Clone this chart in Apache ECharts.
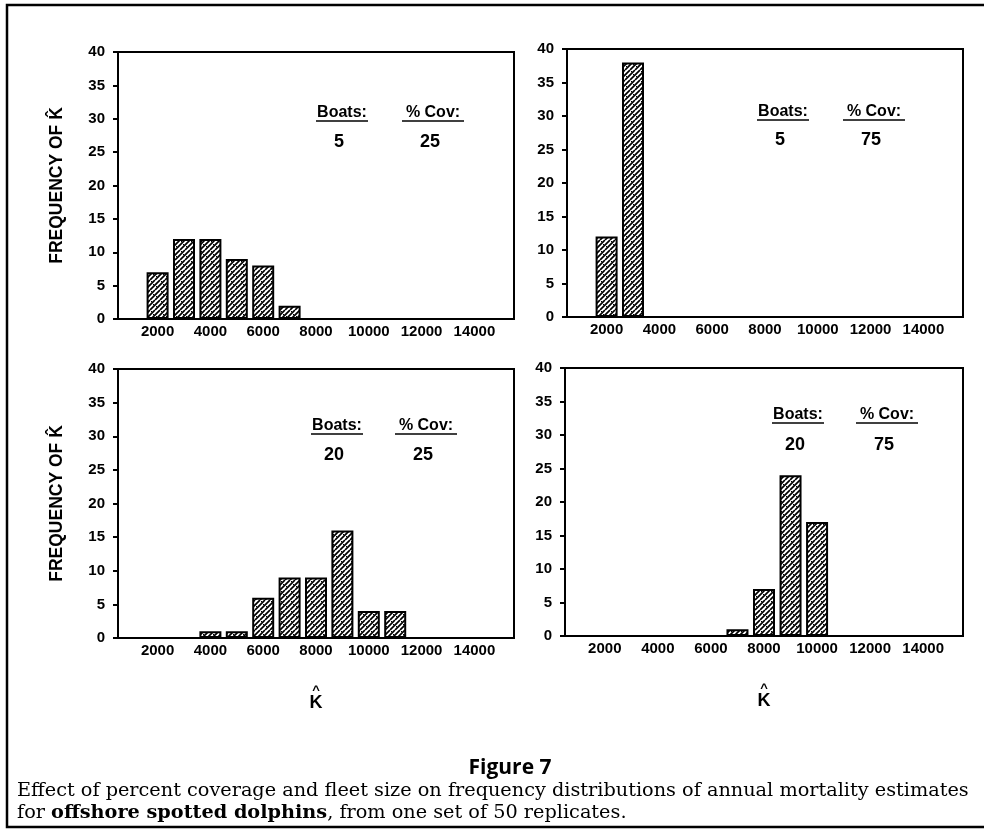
<!DOCTYPE html>
<html>
<head>
<meta charset="utf-8">
<script src="https://cdn.jsdelivr.net/npm/echarts@6/dist/echarts.min.js"></script>
<style>
  html, body { margin: 0; padding: 0; background: #fff; }
  #chart { width: 984px; height: 832px; }
</style>
</head>
<body>
<div id="chart"></div>
<script>
// bins of K-hat, one per 1000
const bins = ['1000', '2000', '3000', '4000', '5000', '6000', '7000', '8000',
  '9000', '10000', '11000', '12000', '13000', '14000', '15000'];
const shownTicks = ['2000', '4000', '6000', '8000', '10000', '12000', '14000'];

// frequencies per bin
const boats5cov25 = [0, 7, 12, 12, 9, 8, 2, 0, 0, 0, 0, 0, 0, 0, 0];
const boats5cov75 = [0, 12, 38, 0, 0, 0, 0, 0, 0, 0, 0, 0, 0, 0, 0];
const boats20cov25 = [0, 0, 0, 1, 1, 6, 9, 9, 16, 4, 4, 0, 0, 0, 0];
const boats20cov75 = [0, 0, 0, 0, 0, 0, 1, 7, 24, 17, 0, 0, 0, 0, 0];

const panels = [
  { boats: '5', cov: '25', data: boats5cov25, grid: { left: 118, top: 52, width: 396, height: 267 } },
  { boats: '5', cov: '75', data: boats5cov75, grid: { left: 567, top: 49, width: 396, height: 268 } },
  { boats: '20', cov: '25', data: boats20cov25, grid: { left: 118, top: 369, width: 396, height: 269 } },
  { boats: '20', cov: '75', data: boats20cov75, grid: { left: 565, top: 368, width: 398, height: 268 } },
];

const SANS = '"Liberation Sans", Arial, sans-serif';
const SERIF = '"DejaVu Serif", serif';

// diagonal hatch with a few dots, like the printed fill
function makeHatch() {
  const c = document.createElement('canvas');
  c.width = 10; c.height = 10;
  const g = c.getContext('2d');
  g.fillStyle = '#fff';
  g.fillRect(0, 0, 10, 10);
  g.strokeStyle = '#000';
  g.lineWidth = 1.7;
  g.beginPath();
  [0, 5, 10, 15, 20].forEach(s => { g.moveTo(s - 10, 10); g.lineTo(s, 0); g.moveTo(s, 10); g.lineTo(s + 10, 0); });
  g.stroke();
  g.fillStyle = '#000';
  g.fillRect(1, 1, 1, 1);
  g.fillRect(6, 6, 1, 1);
  g.fillRect(3, 4, 1, 1);
  return c;
}
const hatch = makeHatch();

const chart = echarts.init(document.getElementById('chart'), null, { renderer: 'canvas' });

const grids = [], xAxes = [], yAxes = [], series = [], graphics = [];

panels.forEach((p, i) => {
  const isLeft = i % 2 === 0;
  const isBottom = i >= 2;
  grids.push(Object.assign({ show: true, borderColor: '#000', borderWidth: 2, backgroundColor: 'transparent' }, p.grid));
  xAxes.push({
    type: 'category',
    gridIndex: i,
    data: bins,
    boundaryGap: true,
    axisLine: { lineStyle: { color: '#000', width: 2 } },
    axisTick: { alignWithLabel: true, interval: 0, length: 4, lineStyle: { color: '#000', width: 2 } },
    axisLabel: {
      interval: 0,
      formatter: v => shownTicks.includes(v) ? v : '',
      color: '#000', fontWeight: 'bold', fontSize: 15, fontFamily: SANS, margin: 5
    },
    name: isBottom ? '{h|^}\n{k|K}' : '',
    nameLocation: 'middle',
    nameGap: 48,
    nameTextStyle: {
      rich: {
        h: { fontSize: 13, fontWeight: 'bold', fontFamily: SANS, color: '#000', lineHeight: 9, align: 'center' },
        k: { fontSize: 18, fontWeight: 'bold', fontFamily: SANS, color: '#000', lineHeight: 17, align: 'center' }
      }
    }
  });
  yAxes.push({
    type: 'value',
    gridIndex: i,
    min: 0, max: 40, interval: 5,
    splitLine: { show: false },
    axisLine: { show: true, lineStyle: { color: '#000', width: 2 } },
    axisTick: { show: true, length: 5, lineStyle: { color: '#000', width: 2 } },
    axisLabel: { color: '#000', fontWeight: 'bold', fontSize: 15, fontFamily: SANS, margin: 13 },
    name: isLeft ? 'FREQUENCY OF K\u0302' : '',
    nameLocation: 'middle',
    nameRotate: 90,
    nameGap: 52,
    nameTextStyle: { color: '#000', fontWeight: 'bold', fontSize: 17.5, fontFamily: SANS }
  });
  series.push({
    type: 'bar',
    xAxisIndex: i,
    yAxisIndex: i,
    data: p.data,
    barWidth: 22,
    itemStyle: { color: { image: hatch, repeat: 'repeat' }, borderColor: '#000', borderWidth: 2 },
    silent: true,
    animation: false
  });
});

// panel annotations: Boats / % Cov
const notes = [
  { bx: 342, cx: 433, y: 113, ny: 142 },
  { bx: 783, cx: 874, y: 112, ny: 140 },
  { bx: 337, cx: 426, y: 426, ny: 455 },
  { bx: 798, cx: 887, y: 415, ny: 445 },
];
const labelStyle = { fill: '#000', font: 'bold 16px ' + SANS, textAlign: 'center', textVerticalAlign: 'middle' };
const numStyle = { fill: '#000', font: 'bold 18px ' + SANS, textAlign: 'center', textVerticalAlign: 'middle' };
notes.forEach((n, i) => {
  graphics.push(
    { type: 'text', x: n.bx, y: n.y, style: Object.assign({ text: 'Boats:' }, labelStyle) },
    { type: 'line', shape: { x1: n.bx - 26, y1: n.y + 8, x2: n.bx + 26, y2: n.y + 8 }, style: { stroke: '#000', lineWidth: 1.3 } },
    { type: 'text', x: n.cx, y: n.y, style: Object.assign({ text: '% Cov:' }, labelStyle) },
    { type: 'line', shape: { x1: n.cx - 31, y1: n.y + 8, x2: n.cx + 31, y2: n.y + 8 }, style: { stroke: '#000', lineWidth: 1.3 } },
    { type: 'text', x: n.bx - 3, y: n.ny, style: Object.assign({ text: panels[i].boats }, numStyle) },
    { type: 'text', x: n.cx - 3, y: n.ny, style: Object.assign({ text: panels[i].cov }, numStyle) }
  );
});

// frame and caption
graphics.push(
  { type: 'rect', shape: { x: 7, y: 5, width: 990, height: 822 }, style: { fill: 'none', stroke: '#000', lineWidth: 2.5 } },
  { type: 'text', x: 510, y: 768, style: { text: 'Figure 7', fill: '#000', font: 'bold 21px "Open Sans", sans-serif', textAlign: 'center', textVerticalAlign: 'middle' } },
  { type: 'text', x: 17, y: 791, scaleX: 1.07, style: { text: 'Effect of percent coverage and fleet size on frequency distributions of annual mortality estimates', fill: '#000', font: '18px ' + SERIF, textAlign: 'left', textVerticalAlign: 'middle' } },
  { type: 'text', x: 17, y: 813, scaleX: 1.07, style: {
      text: '{n|for }{b|offshore spotted dolphins}{n|, from one set of 50 replicates.}',
      textAlign: 'left', textVerticalAlign: 'middle',
      rich: {
        n: { fill: '#000', fontSize: 18, fontFamily: SERIF },
        b: { fill: '#000', fontSize: 18, fontWeight: 'bold', fontFamily: SERIF }
      }
  } }
);

chart.setOption({
  animation: false,
  backgroundColor: '#fff',
  grid: grids,
  xAxis: xAxes,
  yAxis: yAxes,
  series: series,
  graphic: graphics
});
</script>
</body>
</html>
